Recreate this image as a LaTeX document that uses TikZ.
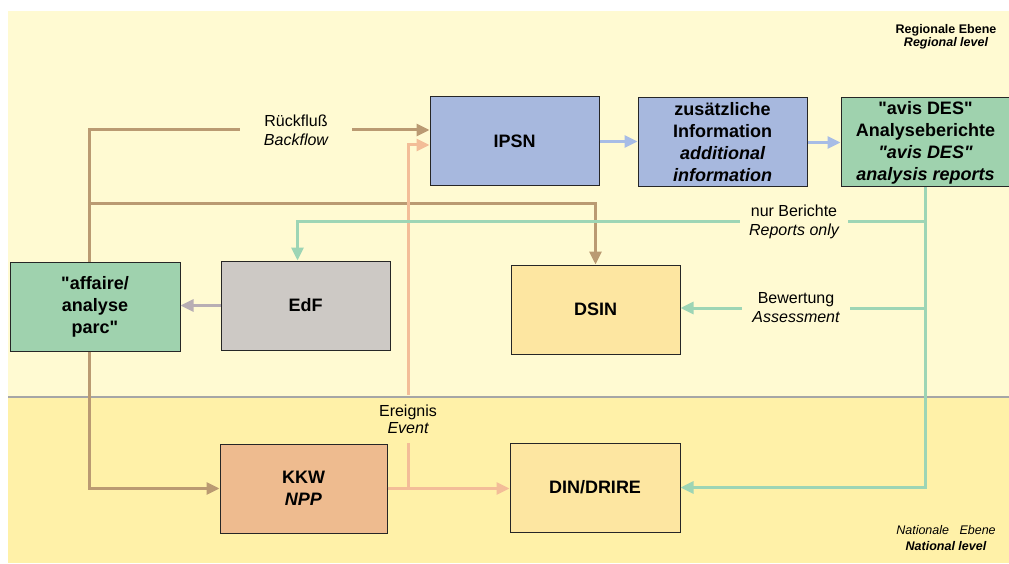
\documentclass[tikz,border=0pt]{standalone}
\usepackage{fontspec}
\setmainfont{Liberation Sans}[Ligatures=TeXOff]
\usetikzlibrary{arrows.meta,calc}
\definecolor{bgup}{HTML}{FFFAD2}
\definecolor{bglow}{HTML}{FFF1A8}
\definecolor{ipsnblue}{HTML}{A7B8DE}
\definecolor{desgreen}{HTML}{9FD2AE}
\definecolor{edfgrey}{HTML}{CDC9C5}
\definecolor{dsinyellow}{HTML}{FDE6A1}
\definecolor{kkwpeach}{HTML}{EEBB8F}
\definecolor{lnbrown}{HTML}{BA9A72}
\definecolor{lnpeach}{HTML}{F3BD98}
\definecolor{lngreen}{HTML}{9DD5B5}
\definecolor{lnblue}{HTML}{A7BCE6}
\definecolor{lngrey}{HTML}{B8AEB4}

\begin{document}
\begin{tikzpicture}[x=1pt,y=-1pt,
		box/.style={draw=black!85, line width=1pt, minimum width=169pt, minimum height=89pt, inner sep=2pt, align=center, font=\fontsize{18}{22}\selectfont\bfseries},
		gaplabel/.style={inner sep=0pt, align=center, font=\fontsize{16}{19}\selectfont},
		flow/.style={line width=3pt},
		arrowed/.style={-{Triangle[length=13pt,width=12pt]}}]
			%%%%% START %%%%%
			
			\useasboundingbox (0,0) rectangle (1009,564);
			\fill[bgup] (8,11) rectangle (1009,397);
			\fill[bglow] (8,397) rectangle (1009,563);
			\draw[black!35, line width=1.5pt] (8,397) -- (1009,397);
			
			\node[inner sep=0pt, align=center, font=\fontsize{12.5}{13}\selectfont\bfseries] (lblreg) at (946,36.5) {Regionale Ebene\\\itshape Regional level};
			\node[inner sep=0pt, align=center, font=\fontsize{12.5}{15.7}\selectfont] (lblnat) at (946,537.7) {\itshape Nationale~~~Ebene\\\bfseries\itshape National level};
			
			\node[box, fill=ipsnblue] (ipsn) at (514.5,141.5) {IPSN};
			\node[box, fill=ipsnblue] (zus) at (722.5,142.5) {zus\"atzliche\\Information\\\itshape additional\\\itshape information};
			\node[box, fill=desgreen] (avis) at (925.5,142.5) {"avis DES"\\Analyseberichte\\\itshape "avis DES"\\\itshape analysis reports};
			\node[box, fill=desgreen, minimum width=170pt] (affaire) at (95,306.5) {"affaire/\\analyse\\parc"};
			\node[box, fill=edfgrey] (edf) at (305.5,305.5) {EdF};
			\node[box, fill=dsinyellow] (dsin) at (595.5,309.5) {DSIN};
			\node[box, fill=kkwpeach, minimum width=167pt] (kkw) at (303.5,488.5) {KKW\\\itshape NPP};
			\node[box, fill=dsinyellow, minimum width=170pt] (din) at (595,487.5) {DIN/DRIRE};
			
			\node[gaplabel, minimum width=112pt] (lblback) at (296,130) {R\"uckflu\ss\\\itshape Backflow};
			\node[gaplabel, minimum width=108pt] (lblrep) at (794,222) {nur Berichte\\\itshape Reports only};
			\node[gaplabel, minimum width=108pt] (lblass) at (796,308) {Bewertung\\\itshape Assessment};
			\node[gaplabel, minimum height=48pt, font=\fontsize{16}{17}\selectfont] (lblevent) at (408,419) {Ereignis\\\itshape Event};
			
			\coordinate (trunk) at (89,0);
			\coordinate (split) at (89,204);
			
			% brown: Rueckfluss
			\draw[flow, lnbrown] (affaire.north -| trunk) |- (lblback.west);
			\draw[flow, lnbrown, arrowed] (lblback.east) -- (lblback.east -| ipsn.west);
			\draw[flow, lnbrown, arrowed] (split) -| (dsin.north);
			\draw[flow, lnbrown, arrowed] (affaire.south -| trunk) |- (kkw.west);
			
			% peach: Ereignis
			\draw[flow, lnpeach, arrowed] (kkw.east) -- (kkw.east -| din.west);
			\draw[flow, lnpeach] (lblevent.south |- kkw.east) -- (lblevent.south);
			\draw[flow, lnpeach, arrowed] (lblevent.north) |- ($(ipsn.west)+(0,3.5)$);
			
			% blue
			\draw[flow, lnblue, arrowed] (ipsn.east) -- (ipsn.east -| zus.west);
			\draw[flow, lnblue, arrowed] (zus.east) -- (zus.east -| avis.west);
			
			% green: reports
			\draw[flow, lngreen, arrowed] (avis.south) |- (din.east);
			\draw[flow, lngreen] (lblrep.east -| avis.south) -- (lblrep.east);
			\draw[flow, lngreen, arrowed] (lblrep.west) -| ($(edf.north)+(-8,0)$);
			\draw[flow, lngreen] (lblass.east -| avis.south) -- (lblass.east);
			\draw[flow, lngreen, arrowed] (lblass.west) -- (lblass.west -| dsin.east);
			
			% grey
			\draw[flow, lngrey, arrowed] (edf.west) -- (edf.west -| affaire.east);
			
			%%%%% END %%%%%
\end{tikzpicture}
\end{document}
